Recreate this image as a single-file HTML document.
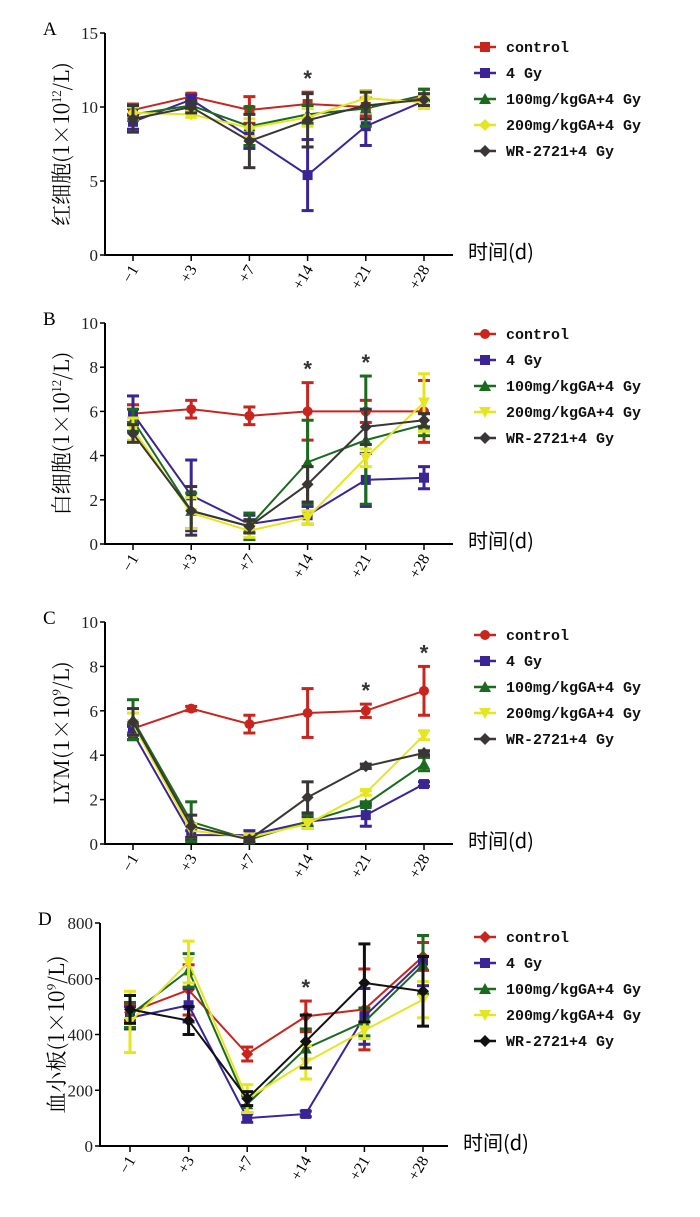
<!DOCTYPE html>
<html><head><meta charset="utf-8"><style>
body{margin:0;background:#fff;}
svg{display:block;}
</style></head><body>
<svg id="chart" width="700" height="1217" xmlns="http://www.w3.org/2000/svg"></svg>
<script>
const categories = ["\u22121","+3","+7","+14","+21","+28"];
const seriesNames = ["control","4 Gy","100mg/kgGA+4 Gy","200mg/kgGA+4 Gy","WR-2721+4 Gy"];
// Panel A: RBC
const aControl=[9.8,10.7,9.8,10.2,10.0,10.6], aControlErr=[0.4,0.2,0.9,0.8,0.6,0.6];
const a4Gy=[9.0,10.5,8.0,5.4,8.7,10.4], a4GyErr=[0.5,0.3,0.8,2.4,1.3,0.3];
const a100=[9.5,10.1,8.7,9.5,9.9,10.8], a100Err=[0.4,0.3,1.3,0.6,1.2,0.4];
const a200=[9.6,9.5,8.6,9.3,10.6,10.3], a200Err=[0.4,0.2,0.6,0.6,0.5,0.4];
const aWR=[9.2,10.0,7.7,9.1,10.1,10.5], aWRErr=[0.9,0.4,1.8,1.8,0.9,0.4];
const aTicks=[0,5,10,15];
// Panel B: WBC
const bControl=[5.9,6.1,5.8,6.0,6.0,6.0], bControlErr=[0.4,0.4,0.4,1.3,0.5,1.4];
const b4Gy=[5.9,2.2,0.9,1.3,2.9,3.0], b4GyErr=[0.8,1.6,0.4,0.4,1.2,0.5];
const b100=[5.6,1.5,0.8,3.7,4.7,5.4], b100Err=[0.5,0.8,0.6,1.9,2.9,0.5];
const b200=[5.2,1.4,0.6,1.2,3.9,6.4], b200Err=[0.5,0.7,0.3,0.3,0.4,1.3];
const bWR=[5.0,1.5,0.8,2.7,5.3,5.6], bWRErr=[0.4,1.1,0.3,0.8,0.8,0.3];
const bTicks=[0,2,4,6,8,10];
// Panel C: LYM
const cControl=[5.2,6.1,5.4,5.9,6.0,6.9], cControlErr=[0.2,0.1,0.4,1.1,0.3,1.1];
const c4Gy=[5.0,0.4,0.4,1.0,1.3,2.7], c4GyErr=[0.3,0.2,0.2,0.2,0.5,0.1];
const c100=[5.6,1.0,0.2,1.0,1.8,3.6], c100Err=[0.9,0.9,0.1,0.3,0.1,0.3];
const c200=[5.4,0.6,0.3,0.9,2.3,4.9], c200Err=[0.5,0.3,0.1,0.2,0.1,0.2];
const cWR=[5.5,0.8,0.2,2.1,3.5,4.1], cWRErr=[0.6,0.5,0.1,0.7,0.1,0.1];
const cTicks=[0,2,4,6,8,10];
// Panel D: PLT
const dControl=[480,560,330,465,490,680], dControlErr=[30,90,25,55,145,50];
const d4Gy=[460,505,100,115,465,665], d4GyErr=[40,60,15,10,100,90];
const d100=[470,630,150,350,445,650], d100Err=[45,60,30,70,50,105];
const d200=[445,660,170,300,415,525], d200Err=[110,75,50,60,30,65];
const dWR=[490,450,170,375,585,555], dWRErr=[50,50,25,95,140,125];
const dTicks=[0,200,400,600,800];

const NS="http://www.w3.org/2000/svg";
const svg=document.getElementById('chart');
function el(tag,attrs,parent){const e=document.createElementNS(NS,tag);for(const k in attrs)e.setAttribute(k,attrs[k]);(parent||svg).appendChild(e);return e;}

const panels=[
 {letter:"A",ylab:"红细胞(1×10",sup:"12",ylab2:"/L)",ymax:15,ticks:aTicks,top:33,bot:255,ax:105,x0:133,dx:58.2,
  data:[[aControl,aControlErr],[a4Gy,a4GyErr],[a100,a100Err],[a200,a200Err],[aWR,aWRErr]],
  shapes:["square","square","tri","diamond","diamond"],colors:["#c8251e","#3b2596","#1a6b1e","#e6e620","#3a3636"],stars:[3],leg:47},
 {letter:"B",ylab:"白细胞(1×10",sup:"12",ylab2:"/L)",ymax:10,ticks:bTicks,top:323,bot:544,ax:105,x0:133,dx:58.2,
  data:[[bControl,bControlErr],[b4Gy,b4GyErr],[b100,b100Err],[b200,b200Err],[bWR,bWRErr]],
  shapes:["circle","square","tri","tridown","diamond"],colors:["#c8251e","#3b2596","#1a6b1e","#e6e620","#3a3636"],stars:[3,4],leg:334},
 {letter:"C",ylab:"LYM(1×10",sup:"9",ylab2:"/L)",ymax:10,ticks:cTicks,top:622,bot:844,ax:105,x0:133,dx:58.2,
  data:[[cControl,cControlErr],[c4Gy,c4GyErr],[c100,c100Err],[c200,c200Err],[cWR,cWRErr]],
  shapes:["circle","square","tri","tridown","diamond"],colors:["#c8251e","#3b2596","#1a6b1e","#e6e620","#3a3636"],stars:[4,5],leg:635},
 {letter:"D",ylab:"血小板(1×10",sup:"9",ylab2:"/L)",ymax:800,ticks:dTicks,top:923,bot:1146,ax:100,x0:130,dx:58.6,
  data:[[dControl,dControlErr],[d4Gy,d4GyErr],[d100,d100Err],[d200,d200Err],[dWR,dWRErr]],
  shapes:["diamond","square","tri","tridown","diamond"],colors:["#c8251e","#3b2596","#1a6b1e","#e6e620","#111"],stars:[3],leg:937}
];

function marker(g,shape,x,y,c,s){
  s=s||5;
  if(shape==="square")return el('rect',{x:x-s,y:y-s,width:2*s,height:2*s,fill:c},g);
  if(shape==="circle")return el('circle',{cx:x,cy:y,r:s,fill:c},g);
  if(shape==="tri")return el('polygon',{points:`${x},${y-s-1} ${x-s-1},${y+s} ${x+s+1},${y+s}`,fill:c},g);
  if(shape==="tridown")return el('polygon',{points:`${x},${y+s+1} ${x-s-1},${y-s} ${x+s+1},${y-s}`,fill:c},g);
  return el('polygon',{points:`${x},${y-s-1} ${x+s+1},${y} ${x},${y+s+1} ${x-s-1},${y}`,fill:c},g);
}

panels.forEach(p=>{
  const g=el('g',{});
  
  
  const ys=v=>p.bot-(v/p.ymax)*(p.bot-p.top);
  const xs=i=>p.x0+i*p.dx;
  const lt=el('text',{x:p.ax-62,y:p.top+2,'font-family':'Liberation Serif, serif','font-size':19},g);lt.textContent=p.letter;
  
  const ya=el('line',{x1:p.ax,y1:p.top,x2:p.ax,y2:p.bot,stroke:'#000','stroke-width':2},g);
  
  const xa=el('line',{x1:p.ax-1,y1:p.bot,x2:p.ax+348,y2:p.bot,stroke:'#000','stroke-width':2},g);
  
  p.ticks.forEach(t=>{
    el('line',{x1:p.ax-5,y1:ys(t),x2:p.ax,y2:ys(t),stroke:'#000','stroke-width':1.5},g);
    const tt=el('text',{x:p.ax-7,y:ys(t)+6,'text-anchor':'end','font-family':'Liberation Serif, serif','font-size':17,fill:'#222'},g);
    tt.textContent=t;
  });
  categories.forEach((c,i)=>{
    el('line',{x1:xs(i),y1:p.bot,x2:xs(i),y2:p.bot+6,stroke:'#000','stroke-width':1.5},g);
    const tt=el('text',{x:0,y:0,'text-anchor':'end','font-family':'Liberation Serif, serif','font-size':16,transform:`translate(${xs(i)+6},${p.bot+14}) rotate(-60)`},g);
    tt.textContent=c;
  });
  const xt=el('text',{x:p.ax+363,y:p.bot+4,'font-family':'Noto Sans CJK SC, Liberation Sans, sans-serif','font-size':20},g);
  xt.textContent='时间(d)';
  const cy=(p.top+p.bot)/2;
  const yt=el('text',{x:0,y:0,'text-anchor':'middle','font-family':'Noto Serif CJK SC, Liberation Serif, serif','font-size':21,transform:`translate(${p.ax-36},${cy}) rotate(-90)`},g);
  
  const t1=document.createElementNS(NS,'tspan');t1.textContent=p.ylab;yt.appendChild(t1);
  const t2=document.createElementNS(NS,'tspan');t2.setAttribute('dy','-8');t2.setAttribute('font-size','12');t2.textContent=p.sup;yt.appendChild(t2);
  const t3=document.createElementNS(NS,'tspan');t3.setAttribute('dy','8');t3.textContent=p.ylab2;yt.appendChild(t3);
  p.data.forEach((d,si)=>{
    const [vals,errs]=d;const c=p.colors[si];
    const sg=el('g',{},g);
    
    
    vals.forEach((v,i)=>{
      const x=xs(i),y1=ys(v+errs[i]),y2=ys(Math.max(0,v-errs[i]));
      el('line',{x1:x,y1:y1,x2:x,y2:y2,stroke:c,'stroke-width':3},sg);
      el('line',{x1:x-6,y1:y1,x2:x+6,y2:y1,stroke:c,'stroke-width':3},sg);
      el('line',{x1:x-6,y1:y2,x2:x+6,y2:y2,stroke:c,'stroke-width':3},sg);
    });
    el('polyline',{points:vals.map((v,i)=>xs(i)+','+ys(v)).join(' '),fill:'none',stroke:c,'stroke-width':2},sg);
    vals.forEach((v,i)=>{const m=marker(sg,p.shapes[si],xs(i),ys(v),c);
      });
  });
  p.stars.forEach(i=>{
    let mx=0;p.data.forEach(d=>{mx=Math.max(mx,d[0][i]+d[1][i]);});
    const st=el('text',{x:xs(i),y:ys(mx)-6,'text-anchor':'middle','font-family':'Liberation Sans, sans-serif','font-size':22,'font-weight':'bold',fill:'#333'},g);
    st.textContent='*';
  });
  const lg=el('g',{},g);
  
  seriesNames.forEach((n,si)=>{
    const y=p.leg+si*26,c=p.colors[si];
    const eg=el('g',{},lg);
    
    el('line',{x1:474,y1:y,x2:496,y2:y,stroke:c,'stroke-width':2.5},eg);
    marker(eg,p.shapes[si],485,y,c,5);
    const t=el('text',{x:506,y:y+5,'font-family':'Liberation Mono, monospace','font-size':15,'font-weight':'bold',fill:'#111'},eg);t.textContent=n;
  });
});
</script>
</body></html>
